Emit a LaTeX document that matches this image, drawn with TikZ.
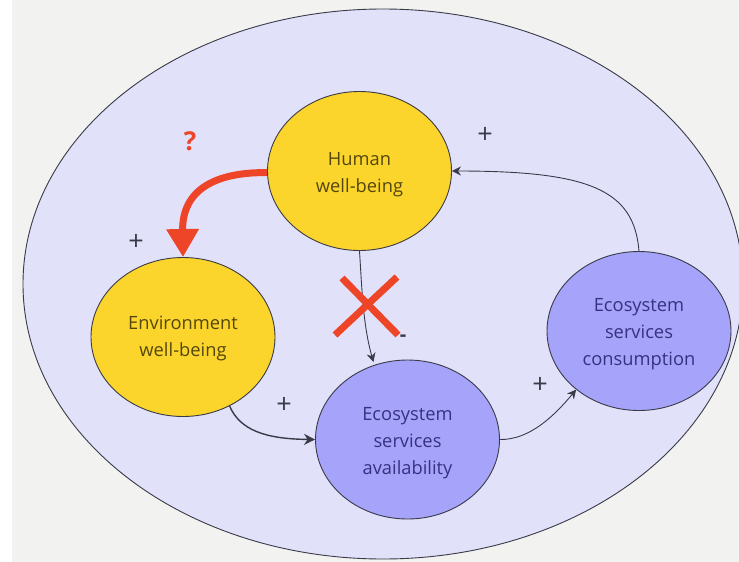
\documentclass[tikz,border=0pt]{standalone}
\usepackage{fontspec}
\setmainfont{Open Sans}
\usetikzlibrary{arrows.meta,shapes.geometric}
\definecolor{bgg}{HTML}{F2F2F0}
\definecolor{ell}{HTML}{E1E2FA}
\definecolor{yel}{HTML}{FBD52B}
\definecolor{pur}{HTML}{A6A3FB}
\definecolor{redx}{HTML}{EE4528}
\definecolor{ink}{HTML}{3A3A48}
\definecolor{ytxt}{HTML}{54470E}
\definecolor{ptxt}{HTML}{363280}
\newcommand{\lifted}[1]{\rule{0pt}{#1}}
\tikzset{
  x=1pt,y=-1pt,
  bubble/.style={ellipse,draw=ink,line width=.9pt,minimum width=184pt,minimum height=159pt,align=center,font=\fontsize{18.3}{27}\selectfont,inner sep=0pt},
  conn/.style={draw=ink,line width=.9pt,-{Stealth[length=9pt,width=9pt]}},
  conn2/.style={conn,line width=1.4pt,-{Stealth[length=11pt,width=11pt]}},
  sign/.style={text=ink,font=\fontsize{27}{27}\selectfont,inner sep=0pt},
  cross/.style={draw=redx,line width=7pt},
}
\begin{document}
\begin{tikzpicture}
\useasboundingbox (0,0) rectangle (739,562);
\fill[white] (0,0) rectangle (739,562);
\fill[bgg] (12,0) rectangle (739,562);
\node[ellipse,draw=ink,line width=.9pt,fill=ell,minimum width=720pt,minimum height=550pt,inner sep=0pt] (outer) at (383,284) {};
\node[bubble,fill=yel,text=ytxt] (hw) at (359.5,171) {\lifted{20pt}Human\\well-being};
\node[bubble,fill=yel,text=ytxt] (ew) at (183,337) {\lifted{16pt}Environment\\well-being};
\node[bubble,fill=pur,text=ptxt] (esa) at (407.5,439.5) {\lifted{20pt}Ecosystem\\services\\availability};
\node[bubble,fill=pur,text=ptxt] (esc) at (639,331) {\lifted{20pt}Ecosystem\\services\\consumption};
\draw[redx,line width=7pt,-{Triangle[length=28pt,width=31pt]}] (hw.181) .. controls (215,172) and (182,190) .. (ew.north);
\draw[conn,shorten >=3pt] (hw.-90) .. controls (362,290) and (363,325) .. (esa.114);
\draw[conn2] (ew.-56) .. controls (240,430) and (265,439) .. (esa.west);
\draw[conn] (esa.east) .. controls (530,440) and (555,415) .. (esc.223);
\draw[conn] (esc.north) .. controls (634,190) and (590,171) .. (hw.east);
\coordinate (xa) at (342,278); \coordinate (xb) at (398,335);
\coordinate (xc) at (397,277); \coordinate (xd) at (335,335);
\draw[cross] (xa) -- (xb);
\draw[cross] (xc) -- (xd);
\node[text=redx,font=\fontsize{26}{26}\selectfont\bfseries,inner sep=0pt] (q) at (190,141) {?};
\node[sign] (p1) at (485,135) {+};
\node[sign] (p2) at (136,242) {+};
\node[sign] (p3) at (284,405) {+};
\node[sign] (p4) at (540,385) {+};
\node[sign,font=\fontsize{20}{20}\selectfont\bfseries] (m1) at (403,338) {-};
\end{tikzpicture}
\end{document}
